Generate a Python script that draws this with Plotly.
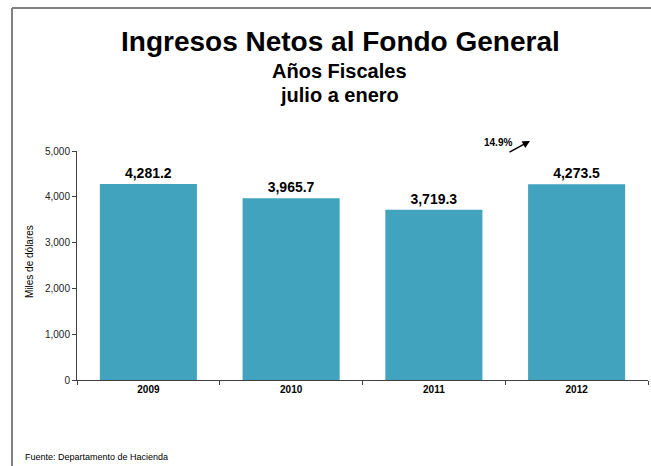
""" PLOTLY bar chart - Ingresos Netos al Fondo General """

import plotly.graph_objs as go

years = ["2009", "2010", "2011", "2012"]
ingresos = [4281.2, 3965.7, 3719.3, 4273.5]
etiquetas = ["4,281.2", "3,965.7", "3,719.3", "4,273.5"]
cambio = "14.9%"

W, H = 651, 466
L, R, T, B = 77, 3, 151, 86
pw, ph = W - L - R, H - T - B


def px_x(x):
    return (x - L) / pw


def px_y(y):
    return (H - B - y) / ph


font = "Liberation Sans, Arial, sans-serif"

fig = go.Figure(data=go.Bar(x=years, y=ingresos,
                            marker_color="#41A3BE",
                            marker_line_width=0,
                            text=etiquetas, textposition="outside",
                            textfont=dict(size=14, color="black", family=font, weight="bold"),
                            cliponaxis=False))

fig.update_layout(width=W, height=H, autosize=False,
                  margin=dict(l=L, r=R, t=T, b=B, autoexpand=False),
                  paper_bgcolor="white", plot_bgcolor="white",
                  bargap=0.32, showlegend=False,
                  font=dict(family=font, color="black"))

fig.update_xaxes(type="category", showline=True, linecolor="#404040", linewidth=1,
                 ticks="outside", tickson="boundaries", ticklen=4, tickcolor="#404040",
                 tickfont=dict(size=10, family=font, color="black", weight="bold"),
                 showgrid=False, automargin=False)
fig.update_yaxes(range=[0, 5000], dtick=1000, tickformat=",d",
                 showline=True, linecolor="#404040", linewidth=1,
                 ticks="outside", ticklen=4, tickcolor="#404040",
                 tickfont=dict(size=10, family=font, color="#222222"),
                 showgrid=False, zeroline=False, automargin=False)

ann = [
    dict(text="<b>Ingresos Netos al Fondo General</b>", x=px_x(340), y=px_y(42),
         font=dict(size=28)),
    dict(text="<b>Años Fiscales</b>", x=px_x(339), y=px_y(71), font=dict(size=20)),
    dict(text="<b>julio a enero</b>", x=px_x(339), y=px_y(95), font=dict(size=20)),
    dict(text="Miles de dólares", x=px_x(29), y=px_y(262), textangle=-90,
         font=dict(size=10)),
    dict(text="Fuente: Departamento de Hacienda", x=px_x(23), y=px_y(457),
         xanchor="left", font=dict(size=9)),
    dict(text="<b>" + cambio + "</b>", x=px_x(498), y=px_y(143), font=dict(size=10)),
    dict(text="", x=px_x(530), y=px_y(141), ax=-22, ay=12, showarrow=True,
         arrowhead=2, arrowsize=1, arrowwidth=1.5, arrowcolor="black"),
]
for a in ann:
    a.setdefault("xref", "paper")
    a.setdefault("yref", "paper")
    a.setdefault("xanchor", "center")
    a.setdefault("yanchor", "middle")
    a.setdefault("showarrow", False)
    fig.add_annotation(**a)

# marco gris
fig.add_shape(type="line", xref="paper", yref="paper",
              x0=px_x(12), x1=px_x(655), y0=px_y(8), y1=px_y(8),
              line=dict(color="#808080", width=2))
fig.add_shape(type="line", xref="paper", yref="paper",
              x0=px_x(12), x1=px_x(12), y0=px_y(8), y1=px_y(470),
              line=dict(color="#808080", width=2))

fig.write_html("out.html", config={"displayModeBar": False, "responsive": False},
               post_script="document.body.style.margin='0';"
                           "document.body.style.overflow='hidden';"
                           "document.documentElement.style.overflow='hidden';")
